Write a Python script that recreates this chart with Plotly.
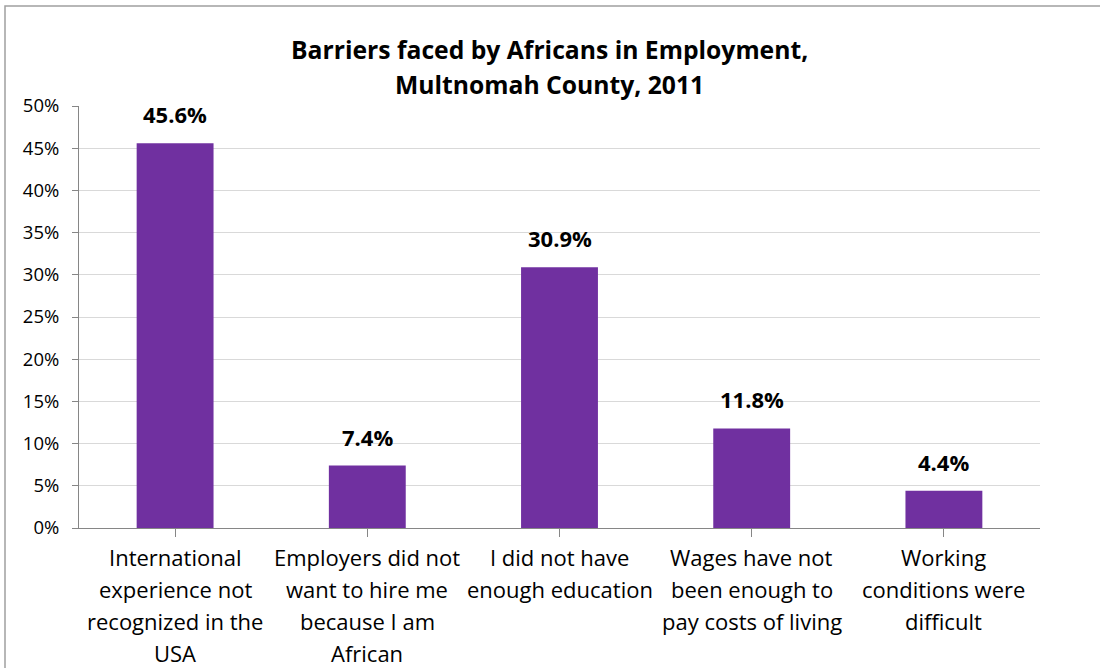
import plotly.graph_objects as go

categories = [
    "International<br>experience not<br>recognized in the<br>USA",
    "Employers did not<br>want to hire me<br>because I am<br>African",
    "I did not have<br>enough education",
    "Wages have not<br>been enough to<br>pay costs of living",
    "Working<br>conditions were<br>difficult",
]
values = [45.6, 7.4, 30.9, 11.8, 4.4]
value_labels = ["45.6%", "7.4%", "30.9%", "11.8%", "4.4%"]
title_lines = ["Barriers faced by Africans in Employment,", "Multnomah County, 2011"]
y_ticks = [0, 5, 10, 15, 20, 25, 30, 35, 40, 45, 50]
y_tick_text = [f"{t}%" for t in y_ticks]

FONT = "Open Sans"
W, H = 1100, 668
L, R, T, B = 79, 60, 106, 140
PW, PH = W - L - R, H - T - B

fig = go.Figure(go.Bar(
    x=list(range(len(categories))), y=values,
    marker=dict(color="#7030A0", line=dict(width=0)),
    width=0.4, hoverinfo="skip",
))

annotations = []
for i, (v, lab) in enumerate(zip(values, value_labels)):
    annotations.append(dict(x=i, y=v, xref="x", yref="y", text=f"<b>{lab}</b>",
                            showarrow=False, yanchor="bottom", yshift=12,
                            font=dict(family=FONT, size=22, color="#000")))
for i, cat in enumerate(categories):
    for j, line in enumerate(cat.split("<br>")):
        annotations.append(dict(x=i, y=0, xref="x", yref="paper", text=line,
                                showarrow=False, yanchor="middle", yshift=-(29 + 32 * j),
                                font=dict(family=FONT, size=22, color="#000")))
title_centers = [49, 84]
for line, cy in zip(title_lines, title_centers):
    annotations.append(dict(x=(549 - L) / PW, y=1, xref="paper", yref="paper",
                            text=f"<b>{line}</b>", showarrow=False, yanchor="middle",
                            yshift=T - cy, font=dict(family=FONT, size=24.7, color="#000")))

fig.update_layout(
    width=W, height=H,
    margin=dict(l=L, r=R, t=T, b=B, pad=0),
    paper_bgcolor="white", plot_bgcolor="white",
    showlegend=False,
    annotations=annotations,
    bargap=0.6,
    shapes=[dict(type="rect", xref="paper", yref="paper",
                 x0=(5 - L) / PW, x1=(W + 20 - L) / PW,
                 y0=-(H + 20 - T - PH) / PH, y1=(T + PH - 6) / PH,
                 line=dict(color="#A0A0A0", width=1.5), layer="below")],
)
fig.update_xaxes(
    range=[-0.5, len(categories) - 0.5],
    tickmode="array", tickvals=list(range(len(categories))),
    showticklabels=False, tickson="boundaries",
    ticks="outside", ticklen=8, tickcolor="#868686", tickwidth=1,
    showline=True, linecolor="#868686", linewidth=1,
    showgrid=False, zeroline=False, fixedrange=True,
)
fig.update_yaxes(
    range=[0, 50], tickmode="array", tickvals=y_ticks, ticktext=y_tick_text,
    ticks="outside", ticklen=6, tickcolor="#868686", tickwidth=1,
    ticklabelstandoff=9,
    showline=True, linecolor="#868686", linewidth=1,
    showgrid=True, gridcolor="#D9D9D9", gridwidth=1, zeroline=False,
    tickfont=dict(family=FONT, size=18.5, color="#000"), fixedrange=True,
)
fig.write_html("out.html", config={"displayModeBar": False},
               post_script="document.body.style.margin='0';")
